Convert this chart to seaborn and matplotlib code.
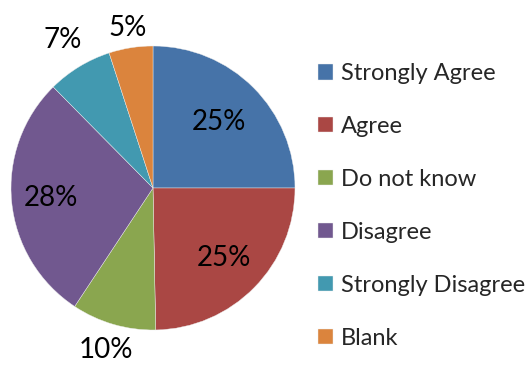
import numpy as np
import seaborn as sns
import matplotlib.pyplot as plt

categories = ["Strongly Agree", "Agree", "Do not know", "Disagree",
              "Strongly Disagree", "Blank"]
shares = [25.0, 24.7, 9.6, 28.3, 7.4, 5.0]
colors = ["#4673A8", "#AA4744", "#8AA64F", "#71588F", "#4299B0", "#DB843D"]
label_dist = [0.66, 0.70, 1.19, 0.72, 1.22, 1.14]

sns.set_theme(style="white")
plt.rcParams['font.family'] = ['Lato', 'DejaVu Sans']

fig = plt.figure(figsize=(5.3, 3.65), dpi=100)
ax = fig.add_axes([11 / 530, 35 / 365, 284 / 530, 284 / 365])

wedges, _ = ax.pie(shares, colors=colors, startangle=90, counterclock=False,
                   radius=1.0, wedgeprops=dict(linewidth=0.3, edgecolor="#eeeeee"))
ax.set_xlim(-1, 1)
ax.set_ylim(-1, 1)
ax.set_aspect("equal")
ax.axis("off")

for w, val, d in zip(wedges, shares, label_dist):
    mid = np.deg2rad((w.theta1 + w.theta2) / 2)
    ax.text(d * np.cos(mid), d * np.sin(mid), "%.0f%%" % val,
            ha="center", va="center", fontsize=20, color="black",
            clip_on=False)

fig.legend(wedges, categories, loc="center left",
           bbox_to_anchor=(318 / 530, 0.436), frameon=False,
           fontsize=17, handlelength=0.62, handleheight=0.62,
           handletextpad=0.35, labelspacing=1.35, borderaxespad=0,
           borderpad=0)

fig.savefig("out.png", dpi=100)
